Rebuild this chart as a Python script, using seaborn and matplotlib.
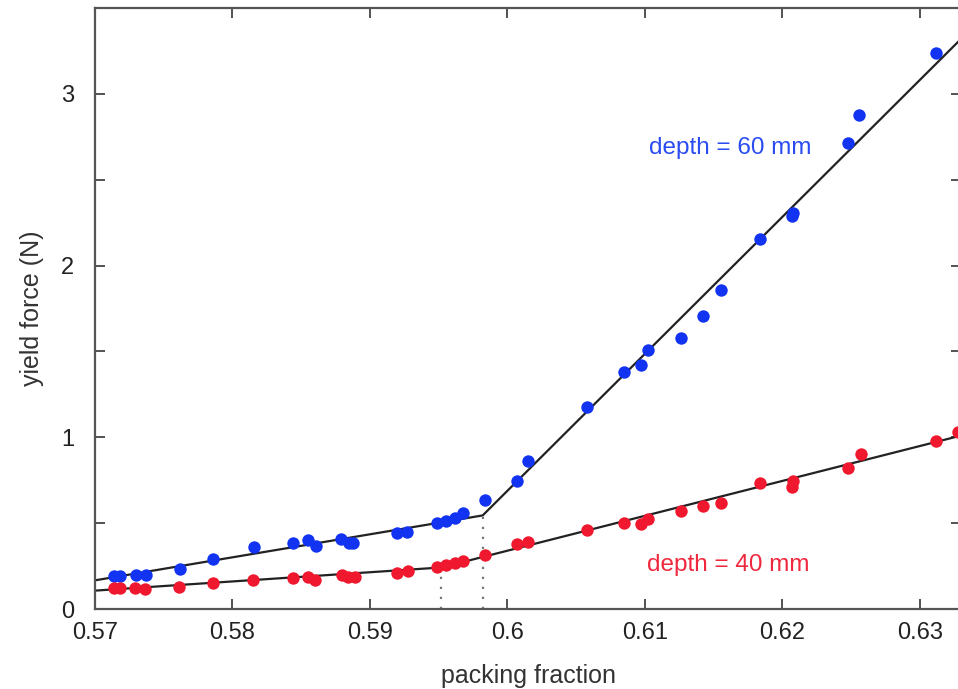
import pandas as pd
import seaborn as sns
import matplotlib.pyplot as plt
from matplotlib.ticker import MultipleLocator

# measured points, depth = 60 mm
x60 = [0.5714, 0.5718, 0.5730, 0.5737, 0.5762, 0.5786, 0.5816, 0.5844, 0.5855,
       0.5861, 0.5879, 0.5885, 0.5888, 0.5920, 0.5927, 0.5949, 0.5955, 0.5962,
       0.5968, 0.5984, 0.6007, 0.6015, 0.6058, 0.6085, 0.6097, 0.6102, 0.6126,
       0.6142, 0.6155, 0.6184, 0.6207, 0.6208, 0.6248, 0.6256, 0.6312]
y60 = [0.192, 0.192, 0.198, 0.200, 0.233, 0.294, 0.362, 0.384, 0.401,
       0.366, 0.407, 0.384, 0.384, 0.440, 0.448, 0.500, 0.515, 0.528,
       0.560, 0.633, 0.746, 0.860, 1.176, 1.378, 1.419, 1.506, 1.581,
       1.709, 1.860, 2.157, 2.291, 2.308, 2.715, 2.878, 3.238]

# measured points, depth = 40 mm
x40 = [0.5714, 0.5718, 0.5729, 0.5736, 0.5761, 0.5786, 0.5815, 0.5844, 0.5855,
       0.5860, 0.5880, 0.5884, 0.5889, 0.5920, 0.5928, 0.5949, 0.5955, 0.5962,
       0.5968, 0.5984, 0.6007, 0.6015, 0.6058, 0.6085, 0.6097, 0.6102, 0.6126,
       0.6142, 0.6155, 0.6184, 0.6207, 0.6208, 0.6248, 0.6257, 0.6312, 0.6328]
y40 = [0.124, 0.120, 0.124, 0.115, 0.130, 0.149, 0.169, 0.182, 0.188,
       0.169, 0.198, 0.188, 0.188, 0.208, 0.223, 0.242, 0.256, 0.266,
       0.281, 0.314, 0.376, 0.388, 0.463, 0.502, 0.494, 0.527, 0.570,
       0.599, 0.618, 0.734, 0.708, 0.744, 0.824, 0.905, 0.978, 1.031]

# piecewise linear fits
fit60_x = [0.570, 0.5982, 0.633]
fit60_y = [0.167, 0.545, 3.32]
fit40_x = [0.570, 0.5952, 0.633]
fit40_y = [0.107, 0.242, 1.01]

# transition markers (dotted)
trans_x = [0.5952, 0.5982]
trans_y = [0.242, 0.545]

blue = "#1233f2"
red = "#f0182e"

sns.set_theme(style="ticks")
plt.rcParams["font.family"] = ["Liberation Sans", "DejaVu Sans"]

df60 = pd.DataFrame({"phi": x60, "force": y60})
df40 = pd.DataFrame({"phi": x40, "force": y40})

fig = plt.figure(figsize=(9.58, 6.89), dpi=100)
ax = fig.add_axes([0.0992, 0.1161, 0.904, 0.8723])

for xv, yv in zip(trans_x, trans_y):
    ax.plot([xv, xv], [0, yv], color="#777777", lw=1.6, ls=(0, (1, 3.5)), zorder=1)

sns.lineplot(x=fit60_x, y=fit60_y, sort=False, color="#222222", lw=1.6, ax=ax, zorder=2)
sns.lineplot(x=fit40_x, y=fit40_y, sort=False, color="#222222", lw=1.6, ax=ax, zorder=2)

sns.scatterplot(data=df60, x="phi", y="force", color=blue, s=80, linewidth=0, ax=ax, zorder=3)
sns.scatterplot(data=df40, x="phi", y="force", color=red, s=80, linewidth=0, ax=ax, zorder=3)

ax.text(0.6162, 2.686, "depth = 60 mm", color="#2a4cf0", fontsize=17.5, ha="center", va="center")
ax.text(0.6161, 0.256, "depth = 40 mm", color="#f0283e", fontsize=17.5, ha="center", va="center")

ax.set_xlim(0.57, 0.633)
ax.set_ylim(0, 3.5)
ax.xaxis.set_major_locator(MultipleLocator(0.01))
ax.yaxis.set_major_locator(MultipleLocator(1))
ax.yaxis.set_minor_locator(MultipleLocator(0.5))
ax.set_xticklabels([f"{t:g}" for t in ax.get_xticks()])

ax.tick_params(which="both", direction="in", top=True, right=True,
               length=7, width=1.3, color="#444444", labelsize=17, labelcolor="#222222")
ax.tick_params(axis="x", pad=9)
ax.tick_params(axis="y", pad=15)
for sp in ax.spines.values():
    sp.set_color("#555555")
    sp.set_linewidth(1.6)

ax.set_xlabel("packing fraction", fontsize=18, color="#333333", labelpad=15)
ax.set_ylabel("yield force (N)", fontsize=18, color="#333333", labelpad=12)

fig.savefig("out.png", dpi=100)
